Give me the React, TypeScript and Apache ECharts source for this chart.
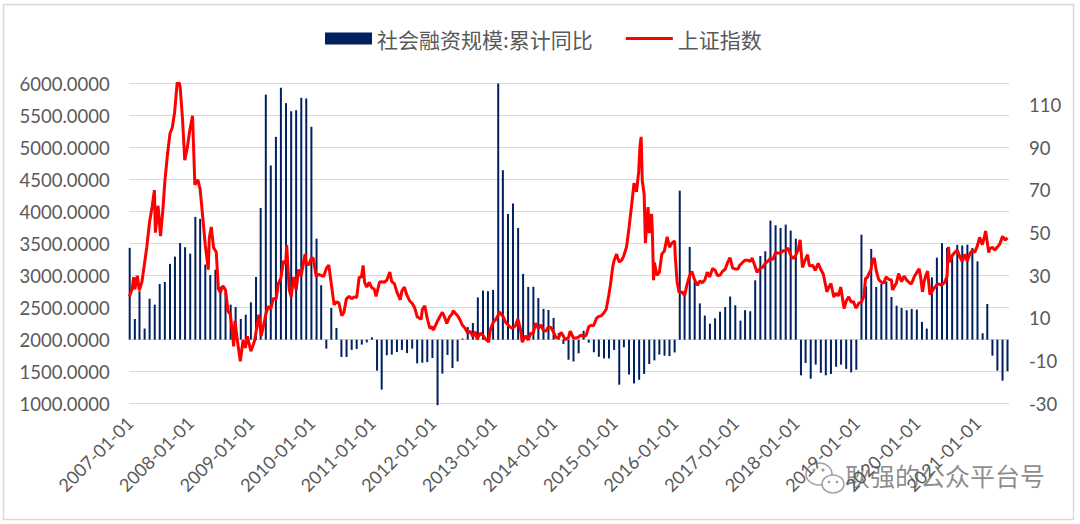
import React, { useEffect, useRef } from 'react';
import * as echarts from 'echarts';

// ---- data ----
const seriesNames = ['社会融资规模:累计同比', '上证指数'];

// monthly bars, first bar = 2006-12 (month-end), last = 2021-06
const barStart = { year: 2006, month: 12 };
const tsfGrowth = [
  43.0,
  9.7, 22.7, 5.2, 19.2, 16.4, 26.1, 27.0, 35.5, 38.9, 45.3, 43.3, 40.3,
  57.5, 56.6, 35.2, 30.3, 32.8, 24.8, 21.9, 16.4, 15.3, 9.7, 11.7, 17.5,
  29.4, 61.7, 114.8, 81.6, 95.0, 118.0, 110.8, 107.0, 107.5, 113.3, 113.0, 99.7,
  47.3, 25.5, -4.2, 14.8, 5.5, -8.1, -8.1, -4.8, -4.4, -2.3, -1.3, 1.1,
  -14.5, -23.4, -7.3, -7.0, -5.8, -4.8, -6.3, -4.2, -11.1, -10.8, -10.5, -8.6,
  -30.7, -15.9, -7.2, -13.3, -10.2, 0.5, 5.9, 7.8, 19.8, 23.0, 22.7, 23.3,
  120, 79.4, 58.9, 63.8, 52.3, 30.8, 24.7, 24.8, 19.5, 14.4, 13.9, 10.2,
  3.1, -2.0, -9.4, -10.2, -6.4, 4.2, -1.4, -5.9, -8.0, -8.8, -8.8, -4.8,
  -21.1, -3.6, -16.3, -20.5, -18.8, -16.1, -11.4, -9.7, -7.0, -7.5, -7.7, -6.0,
  69.8, 21.1, 43.4, 27.3, 17.0, 11.3, 7.5, 10.0, 13.1, 15.3, 20.2, 16.1,
  8.9, 13.8, 13.3, 27.8, 39.2, 41.4, 55.8, 53.6, 52.3, 53.9, 51.1, 47.3,
  -16.7, -10.9, -18.3, -11.7, -15.5, -16.7, -16.1, -12.7, -11.7, -13.7, -15.3, -14.1,
  49.2, 25.0, 42.5, 24.7, 26.1, 27.3, 20.0, 15.9, 14.8, 13.8, 14.4, 14.1,
  8.3, 5.2, 29.2, 38.4, 45.2, 43.0, 39.8, 44.4, 44.1, 44.5, 43.0, 36.7,
  3.0, 16.7, -7.5, -14.5, -19.2, -14.8,
];

const shIndex: [string, number][] = [
  ['2006-12-29', 2675], ['2007-01-15', 2794], ['2007-01-24', 2975], ['2007-01-31', 2786], ['2007-02-15', 2998], ['2007-02-27', 2771],
  ['2007-03-15', 2906], ['2007-03-30', 3183], ['2007-04-13', 3444], ['2007-04-30', 3841], ['2007-05-15', 4071], ['2007-05-29', 4335],
  ['2007-06-04', 3670], ['2007-06-20', 4091], ['2007-07-05', 3615], ['2007-07-20', 4058], ['2007-07-31', 4471], ['2007-08-15', 4871],
  ['2007-08-31', 5218], ['2007-09-14', 5312], ['2007-09-28', 5552], ['2007-10-16', 6092], ['2007-10-31', 5954], ['2007-11-15', 5430],
  ['2007-11-28', 4803], ['2007-12-14', 5007], ['2007-12-28', 5262],
  ['2008-01-14', 5497], ['2008-01-28', 4419], ['2008-02-15', 4497], ['2008-02-29', 4348], ['2008-03-14', 3962], ['2008-03-31', 3472],
  ['2008-04-18', 3094], ['2008-04-24', 3583], ['2008-05-06', 3761], ['2008-05-20', 3437], ['2008-06-05', 3370], ['2008-06-18', 2794],
  ['2008-06-30', 2736], ['2008-07-15', 2842], ['2008-07-31', 2775], ['2008-08-15', 2443], ['2008-08-29', 2397], ['2008-09-12', 2079],
  ['2008-09-18', 1895], ['2008-09-26', 2293], ['2008-10-10', 2000], ['2008-10-28', 1664], ['2008-11-14', 1994], ['2008-11-28', 1871],
  ['2008-12-10', 2053], ['2008-12-31', 1820],
  ['2009-01-14', 1920], ['2009-01-23', 1990], ['2009-02-17', 2389], ['2009-03-03', 2057], ['2009-03-17', 2218], ['2009-04-01', 2408],
  ['2009-04-15', 2520], ['2009-04-30', 2477], ['2009-05-15', 2644], ['2009-06-01', 2632], ['2009-06-15', 2880], ['2009-06-30', 2959],
  ['2009-07-15', 3227], ['2009-07-29', 3195], ['2009-08-04', 3478], ['2009-08-19', 2785], ['2009-08-31', 2667], ['2009-09-15', 2979],
  ['2009-09-30', 2779], ['2009-10-15', 3096], ['2009-10-30', 2996], ['2009-11-23', 3338], ['2009-11-30', 3195], ['2009-12-15', 3165],
  ['2009-12-31', 3277],
  ['2010-01-11', 3273], ['2010-01-29', 2989], ['2010-02-12', 3018], ['2010-03-15', 2987], ['2010-03-31', 3109], ['2010-04-15', 3166],
  ['2010-04-30', 2870], ['2010-05-17', 2543], ['2010-05-31', 2592], ['2010-06-15', 2573], ['2010-07-02', 2373], ['2010-07-15', 2424],
  ['2010-07-30', 2637], ['2010-08-16', 2677], ['2010-08-31', 2638], ['2010-09-15', 2669], ['2010-09-30', 2656], ['2010-10-15', 2971],
  ['2010-10-29', 2978], ['2010-11-08', 3159], ['2010-11-17', 2894], ['2010-11-30', 2820], ['2010-12-15', 2896], ['2010-12-31', 2808],
  ['2011-01-14', 2791], ['2011-01-25', 2677], ['2011-02-15', 2899], ['2011-02-28', 2905], ['2011-03-15', 2896], ['2011-03-31', 2928],
  ['2011-04-18', 3057], ['2011-04-29', 2911], ['2011-05-16', 2871], ['2011-05-31', 2743], ['2011-06-20', 2622], ['2011-06-30', 2762],
  ['2011-07-15', 2820], ['2011-07-29', 2702], ['2011-08-15', 2608], ['2011-08-31', 2567], ['2011-09-15', 2498], ['2011-09-30', 2359],
  ['2011-10-24', 2317], ['2011-10-31', 2469], ['2011-11-15', 2529], ['2011-11-30', 2333], ['2011-12-15', 2181], ['2011-12-30', 2199],
  ['2012-01-06', 2148], ['2012-01-31', 2292], ['2012-02-15', 2366], ['2012-02-29', 2428], ['2012-03-14', 2347], ['2012-03-27', 2252],
  ['2012-04-13', 2359], ['2012-04-27', 2396], ['2012-05-04', 2452], ['2012-05-31', 2373], ['2012-06-15', 2306], ['2012-06-29', 2225],
  ['2012-07-13', 2185], ['2012-07-31', 2103], ['2012-08-15', 2134], ['2012-08-31', 2047], ['2012-09-14', 2124], ['2012-09-26', 2004],
  ['2012-10-15', 2102], ['2012-10-31', 2069], ['2012-11-15', 2009], ['2012-11-30', 1980], ['2012-12-04', 1959], ['2012-12-14', 2151],
  ['2012-12-31', 2269],
  ['2013-01-15', 2310], ['2013-01-31', 2385], ['2013-02-06', 2434], ['2013-02-28', 2366], ['2013-03-15', 2278], ['2013-03-29', 2237],
  ['2013-04-15', 2194], ['2013-04-26', 2177], ['2013-05-15', 2216], ['2013-05-29', 2324], ['2013-06-14', 2162], ['2013-06-25', 1959],
  ['2013-06-28', 1979], ['2013-07-15', 2059], ['2013-07-31', 1994], ['2013-08-15', 2100], ['2013-08-30', 2098], ['2013-09-12', 2255],
  ['2013-09-30', 2175], ['2013-10-15', 2229], ['2013-10-31', 2141], ['2013-11-15', 2135], ['2013-11-26', 2184], ['2013-12-13', 2196],
  ['2013-12-31', 2116],
  ['2014-01-15', 2028], ['2014-01-30', 2033], ['2014-02-14', 2115], ['2014-02-28', 2056], ['2014-03-11', 1998], ['2014-03-31', 2033],
  ['2014-04-10', 2134], ['2014-04-30', 2026], ['2014-05-15', 2025], ['2014-05-30', 2039], ['2014-06-13', 2070], ['2014-06-30', 2048],
  ['2014-07-15', 2066], ['2014-07-31', 2201], ['2014-08-15', 2226], ['2014-08-29', 2217], ['2014-09-15', 2331], ['2014-09-30', 2364],
  ['2014-10-15', 2373], ['2014-10-31', 2420], ['2014-11-14', 2478], ['2014-11-28', 2683], ['2014-12-09', 2857], ['2014-12-22', 3128],
  ['2014-12-31', 3235],
  ['2015-01-15', 3336], ['2015-01-30', 3210], ['2015-02-16', 3247], ['2015-02-27', 3310], ['2015-03-16', 3449], ['2015-03-31', 3748],
  ['2015-04-15', 4084], ['2015-04-30', 4442], ['2015-05-15', 4309], ['2015-05-28', 4620], ['2015-06-05', 5023], ['2015-06-12', 5166],
  ['2015-06-19', 4478], ['2015-06-30', 4277], ['2015-07-08', 3507], ['2015-07-15', 3805], ['2015-07-24', 4070], ['2015-07-31', 3664],
  ['2015-08-14', 3965], ['2015-08-18', 3749], ['2015-08-26', 2927], ['2015-08-31', 3206], ['2015-09-15', 3005], ['2015-09-30', 3053],
  ['2015-10-15', 3338], ['2015-10-30', 3383], ['2015-11-16', 3607], ['2015-11-30', 3445], ['2015-12-15', 3510], ['2015-12-31', 3539],
  ['2016-01-04', 3297], ['2016-01-15', 2901], ['2016-01-27', 2735], ['2016-02-15', 2746], ['2016-02-29', 2688], ['2016-03-15', 2864],
  ['2016-03-31', 3004], ['2016-04-13', 3066], ['2016-04-29', 2938], ['2016-05-16', 2850], ['2016-05-31', 2917], ['2016-06-15', 2888],
  ['2016-06-30', 2930], ['2016-07-15', 3054], ['2016-07-29', 2979], ['2016-08-16', 3110], ['2016-08-31', 3085], ['2016-09-14', 3003],
  ['2016-09-30', 3005], ['2016-10-14', 3064], ['2016-10-31', 3100], ['2016-11-15', 3207], ['2016-11-29', 3282], ['2016-12-15', 3118],
  ['2016-12-30', 3104],
  ['2017-01-16', 3103], ['2017-01-26', 3159], ['2017-02-15', 3212], ['2017-02-28', 3241], ['2017-03-15', 3241], ['2017-03-31', 3223],
  ['2017-04-12', 3273], ['2017-04-28', 3155], ['2017-05-11', 3052], ['2017-05-31', 3117], ['2017-06-15', 3133], ['2017-06-30', 3192],
  ['2017-07-14', 3222], ['2017-07-31', 3273], ['2017-08-15', 3251], ['2017-08-31', 3361], ['2017-09-15', 3354], ['2017-09-29', 3349],
  ['2017-10-16', 3390], ['2017-10-31', 3393], ['2017-11-14', 3430], ['2017-11-30', 3317], ['2017-12-15', 3266], ['2017-12-29', 3307],
  ['2018-01-15', 3410], ['2018-01-26', 3558], ['2018-02-09', 3129], ['2018-02-28', 3259], ['2018-03-12', 3326], ['2018-03-23', 3152],
  ['2018-04-13', 3159], ['2018-04-27', 3082], ['2018-05-15', 3192], ['2018-05-31', 3095], ['2018-06-15', 3022], ['2018-06-29', 2847],
  ['2018-07-06', 2747], ['2018-07-20', 2829], ['2018-07-31', 2876], ['2018-08-17', 2669], ['2018-08-31', 2725], ['2018-09-14', 2682],
  ['2018-09-28', 2821], ['2018-10-18', 2486], ['2018-10-31', 2603], ['2018-11-15', 2668], ['2018-11-30', 2588], ['2018-12-14', 2594],
  ['2018-12-28', 2494],
  ['2019-01-04', 2514], ['2019-01-15', 2570], ['2019-01-31', 2585], ['2019-02-15', 2682], ['2019-02-25', 2961], ['2019-03-08', 2970],
  ['2019-03-15', 3022], ['2019-03-29', 3091], ['2019-04-08', 3245], ['2019-04-19', 3271], ['2019-04-30', 3078], ['2019-05-15', 2938],
  ['2019-05-31', 2899], ['2019-06-14', 2882], ['2019-06-28', 2979], ['2019-07-15', 2942], ['2019-07-31', 2932], ['2019-08-06', 2778],
  ['2019-08-15', 2815], ['2019-08-30', 2886], ['2019-09-12', 3031], ['2019-09-30', 2905], ['2019-10-15', 2991], ['2019-10-31', 2929],
  ['2019-11-15', 2891], ['2019-11-29', 2872], ['2019-12-16', 2985], ['2019-12-31', 3050],
  ['2020-01-14', 3106], ['2020-01-23', 2977], ['2020-02-03', 2746], ['2020-02-14', 2917], ['2020-02-25', 3013], ['2020-03-05', 3071],
  ['2020-03-19', 2702], ['2020-03-31', 2750], ['2020-04-15', 2811], ['2020-04-30', 2860], ['2020-05-15', 2868], ['2020-05-29', 2852],
  ['2020-06-15', 2890], ['2020-06-30', 2985], ['2020-07-09', 3450], ['2020-07-16', 3211], ['2020-07-31', 3310], ['2020-08-14', 3360],
  ['2020-08-31', 3396], ['2020-09-15', 3296], ['2020-09-30', 3218], ['2020-10-15', 3332], ['2020-10-30', 3225], ['2020-11-16', 3347],
  ['2020-11-30', 3392], ['2020-12-15', 3367], ['2020-12-31', 3473],
  ['2021-01-13', 3598], ['2021-01-29', 3483], ['2021-02-10', 3603], ['2021-02-18', 3696], ['2021-03-09', 3360], ['2021-03-15', 3420],
  ['2021-03-31', 3441], ['2021-04-15', 3398], ['2021-04-30', 3447], ['2021-05-14', 3490], ['2021-05-31', 3615], ['2021-06-15', 3556],
  ['2021-06-30', 3591],
];

const yearTicks = [
  '2007-01-01', '2008-01-01', '2009-01-01', '2010-01-01', '2011-01-01', '2012-01-01', '2013-01-01', '2014-01-01',
  '2015-01-01', '2016-01-01', '2017-01-01', '2018-01-01', '2019-01-01', '2020-01-01', '2021-01-01',
];

const xRange = ['2006-12-31', '2021-07-09'];
const leftAxisRange = { min: 1000, max: 6000, step: 500 };
const rightAxisRange = { min: -30, max: 120, step: 20 };
const watermarkText = '耿强的公众平台号';

// ---- helpers ----
const ts = (s: string) => {
  const [y, m, d] = s.split('-').map(Number);
  return new Date(y, m - 1, d).getTime();
};
const pad = (n: number) => (n < 10 ? '0' + n : '' + n);
const fmtDate = (v: number) => {
  const d = new Date(v + 12 * 3600 * 1000);
  return `${d.getFullYear()}-${pad(d.getMonth() + 1)}-${pad(d.getDate())}`;
};
const monthEnd = (i: number) => {
  const m0 = barStart.month - 1 + i;
  const y = barStart.year + Math.floor(m0 / 12);
  const m = m0 % 12;
  return new Date(y, m + 1, 0).getTime();
};

export default function App() {
  const ref = useRef<HTMLDivElement>(null);
  useEffect(() => {
    if (!ref.current) return;
    const chart = echarts.init(ref.current, undefined, { renderer: 'svg' });
    const grey = '#595959';
    const barData = tsfGrowth.map((v, i) => [monthEnd(i), v]);
    const lineData = shIndex.map(([d, v]) => [ts(d), v]);
    chart.setOption({
      animation: false,
      backgroundColor: '#ffffff',
      color: ['#002060', '#ff0000'],
      legend: {
        top: 23,
        left: 320,
        itemWidth: 47,
        itemHeight: 12,
        itemGap: 33,
        symbolKeepAspect: true,
        textStyle: { color: grey, fontSize: 21, fontFamily: 'Noto Sans CJK SC' },
        data: [
          { name: seriesNames[0], icon: 'rect' },
          { name: seriesNames[1], icon: 'path://M0,0L47,0L47,3L0,3Z' },
        ],
      },
      grid: { left: 129.7, right: 71, top: 83.5, bottom: 120.3, containLabel: false },
      xAxis: {
        type: 'value',
        min: ts(xRange[0]),
        max: ts(xRange[1]),
        axisLine: { show: false },
        axisTick: { show: false },
        splitLine: { show: false },
        axisLabel: {
          customValues: yearTicks.map(ts),
          rotate: 45,
          margin: 16,
          color: grey,
          fontSize: 18,
          fontFamily: 'Lato',
          hideOverlap: false,
          formatter: (v: number) => fmtDate(v),
        },
      },
      yAxis: [
        {
          type: 'value',
          position: 'left',
          min: leftAxisRange.min,
          max: leftAxisRange.max,
          interval: leftAxisRange.step,
          axisLine: { show: false },
          axisTick: { show: false },
          splitLine: { lineStyle: { color: '#d9d9d9', width: 1.2 } },
          axisLabel: {
            color: grey,
            fontSize: 18.5,
            fontFamily: 'Lato',
            margin: 20,
            formatter: (v: number) => v.toFixed(4),
          },
        },
        {
          type: 'value',
          position: 'right',
          min: rightAxisRange.min,
          max: rightAxisRange.max,
          interval: rightAxisRange.step,
          axisLine: { show: false },
          axisTick: { show: false },
          splitLine: { show: false },
          axisLabel: {
            color: grey,
            fontSize: 18.5,
            fontFamily: 'Lato',
            margin: 20,
            showMaxLabel: false,
          },
        },
      ],
      series: [
        {
          type: 'bar',
          name: seriesNames[0],
          yAxisIndex: 1,
          data: barData,
          barWidth: 2,
          clip: false,
          itemStyle: { color: '#002060' },
        },
        {
          type: 'line',
          name: seriesNames[1],
          yAxisIndex: 0,
          data: lineData,
          symbol: 'none',
          showSymbol: false,
          lineStyle: { color: '#ff0000', width: 3 },
          itemStyle: { color: '#ff0000' },
          z: 5,
        },
      ],
      graphic: [
        {
          type: 'rect',
          silent: true,
          z: -10,
          shape: { x: 3.5, y: 4.5, width: 1070, height: 515 },
          style: { fill: 'none', stroke: '#d9d9d9', lineWidth: 1.5 },
        },
        {
          type: 'group',
          z: 100,
          silent: true,
          children: [
            { type: 'ellipse', shape: { cx: 819, cy: 474, rx: 13, ry: 11 }, style: { fill: '#ffffff', stroke: '#a0a0a0', lineWidth: 1.5 } },
            { type: 'ellipse', shape: { cx: 833, cy: 484, rx: 11, ry: 9 }, style: { fill: '#ffffff', stroke: '#a0a0a0', lineWidth: 1.5 } },
            { type: 'circle', shape: { cx: 814, cy: 470, r: 1.6 }, style: { fill: '#a0a0a0' } },
            { type: 'circle', shape: { cx: 823, cy: 470, r: 1.6 }, style: { fill: '#a0a0a0' } },
            { type: 'circle', shape: { cx: 829, cy: 482, r: 1.3 }, style: { fill: '#a0a0a0' } },
            { type: 'circle', shape: { cx: 837, cy: 482, r: 1.3 }, style: { fill: '#a0a0a0' } },
            {
              type: 'text',
              x: 845,
              y: 462,
              style: {
                text: watermarkText,
                fontSize: 25,
                fontFamily: 'Noto Sans CJK SC',
                fill: 'rgba(120,120,120,0.85)',
                stroke: 'rgba(255,255,255,0.9)',
                lineWidth: 2,
              },
            },
          ],
        },
      ],
    });
    return () => chart.dispose();
  }, []);
  return (
    <div
      ref={ref}
      style={{ position: 'absolute', left: 0, top: 0, width: 1080, height: 524, background: '#fff' }}
    />
  );
}
